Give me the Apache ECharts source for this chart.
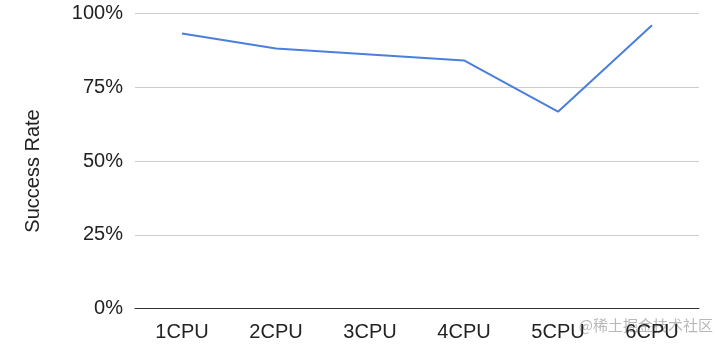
<!DOCTYPE html>
<html><head><meta charset="utf-8">
<script src="https://cdn.jsdelivr.net/npm/echarts@6/dist/echarts.min.js"></script>
<style>html,body{margin:0;padding:0;background:#fff}#c{width:727px;height:349px}</style>
</head><body><div id="c"></div>
<script>
const categories = ['1CPU','2CPU','3CPU','4CPU','5CPU','6CPU'];
const successRate = [0.932, 0.881, 0.861, 0.841, 0.667, 0.960];
const yTicks = [0, 0.25, 0.5, 0.75, 1];
const chart = echarts.init(document.getElementById('c'));
chart.setOption({
  animation: false,
  grid: { left: 135, right: 28, top: 13.5, bottom: 40.5 },
  xAxis: {
    type: 'category', data: categories, boundaryGap: true,
    axisLine: { lineStyle: { color: '#333', width: 1 } },
    axisTick: { show: false },
    axisLabel: { color: '#222', fontFamily: 'Liberation Sans', fontSize: 20, margin: 14 }
  },
  yAxis: {
    type: 'value', min: yTicks[0], max: yTicks[yTicks.length-1], interval: 0.25,
    name: 'Success Rate', nameLocation: 'middle', nameGap: 92,
    nameTextStyle: { color: '#222', fontFamily: 'Liberation Sans', fontSize: 20, padding: [0, 20, 0, 0] },
    axisLine: { show: false }, axisTick: { show: false },
    splitLine: { lineStyle: { color: '#ccc', width: 1 } },
    axisLabel: { color: '#222', fontFamily: 'Liberation Sans', fontSize: 20, margin: 12,
      formatter: v => Math.round(v*100) + '%' }
  },
  series: [{
    type: 'line', data: successRate, symbol: 'none',
    lineStyle: { color: '#4a7fdc', width: 2 }
  }],
  graphic: [{
    type: 'text', right: 14, top: 318,
    style: { text: '@稀土掘金技术社区', fill: 'rgba(160,160,160,0.75)', font: '15px "Noto Sans CJK SC"' }
  }]
});
</script></body></html>
